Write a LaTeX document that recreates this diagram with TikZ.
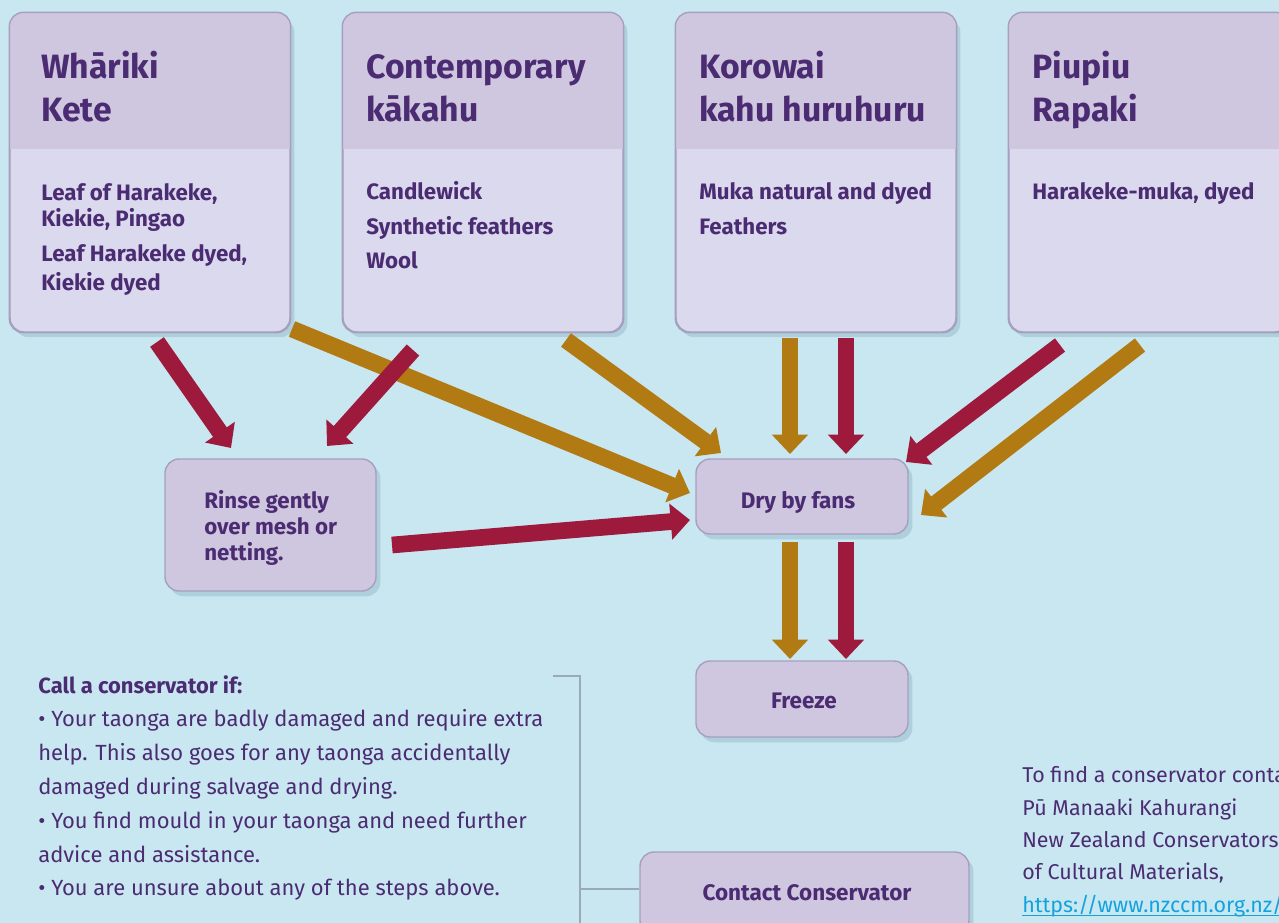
\documentclass[tikz,border=0pt]{standalone}
\usepackage{fontspec}
\setmainfont{Fira Sans}
\usetikzlibrary{arrows.meta,calc,shadows}
\definecolor{bg}{HTML}{C9E7F1}
\definecolor{headc}{HTML}{CFC6DF}
\definecolor{bodyc}{HTML}{DAD9EE}
\definecolor{boxline}{HTML}{A79FC0}
\definecolor{txt}{HTML}{4B2C72}
\definecolor{redc}{HTML}{9E1A3C}
\definecolor{goldc}{HTML}{B27A12}
\definecolor{linkc}{HTML}{12A3DD}
\definecolor{brk}{HTML}{9EA9B8}
\definecolor{shad}{HTML}{8FB2C4}
\tikzset{
  box/.style={draw=boxline, line width=0.8pt, rounded corners=8pt, fill=bodyc, inner sep=0pt,
    drop shadow={shadow xshift=2.5pt, shadow yshift=-3pt, fill=shad, opacity=0.45}},
  stepbox/.style={box, fill=headc},
  head/.style={anchor=base west, inner sep=0pt, text=txt, font=\fontsize{19.2}{22}\selectfont\bfseries},
  body/.style={anchor=base west, inner sep=0pt, text=txt, font=\fontsize{12.7}{14}\selectfont\bfseries},
  steptext/.style={anchor=base, inner sep=0pt, text=txt, font=\fontsize{12.8}{14}\selectfont\bfseries},
  note/.style={anchor=base west, inner sep=0pt, text=txt, font=\fontsize{12.5}{14}\selectfont},
  fnote/.style={anchor=base west, inner sep=0pt, text=txt, font=\fontsize{12.2}{14}\selectfont},
  fat/.style={line width=9.5pt, -{Triangle[width=20pt,length=11pt]}},
}
\newcommand{\headband}[1]{%
  \begin{scope}
    \clip[rounded corners=8pt] (#1.north west) rectangle (#1.south east);
    \fill[headc] (#1.north west) rectangle ($(#1.north east)+(0,137)$);
  \end{scope}
  \draw[boxline, line width=0.8pt, rounded corners=8pt] (#1.north west) rectangle (#1.south east);}
\begin{document}
\begin{tikzpicture}[x=0.02cm,y=-0.02cm]
\useasboundingbox (0,0) rectangle (1279,923);
\clip (0,0) rectangle (1279,923);
\fill[bg] (0,0) rectangle (1279,923);

% top boxes
\node[box, minimum width=5.6cm, minimum height=6.38cm] (b1) at (150,172.5) {};
\node[box, minimum width=5.6cm, minimum height=6.38cm] (b2) at (483,172.5) {};
\node[box, minimum width=5.6cm, minimum height=6.38cm] (b3) at (816,172.5) {};
\node[box, minimum width=5.6cm, minimum height=6.38cm] (b4) at (1149,172.5) {};
\headband{b1}\headband{b2}\headband{b3}\headband{b4}

% headings
\node[head] (h1a) at (41,78) {Whāriki};
\node[head] (h1b) at (41,121) {Kete};
\node[head] (h2a) at (366,78) {Contemporary};
\node[head] (h2b) at (366,121) {kākahu};
\node[head] (h3a) at (699,78) {Korowai};
\node[head] (h3b) at (699,121) {kahu huruhuru};
\node[head] (h4a) at (1032,78) {Piupiu};
\node[head] (h4b) at (1032,121) {Rapaki};

% body texts
\node[body] (t1a) at (41,200) {Leaf of Harakeke,};
\node[body] (t1b) at (41,226) {Kiekie, Pingao};
\node[body] (t1c) at (41,261) {Leaf Harakeke dyed,};
\node[body] (t1d) at (41,290) {Kiekie dyed};
\node[body] (t2a) at (366,199) {Candlewick};
\node[body] (t2b) at (366,234) {Synthetic feathers};
\node[body] (t2c) at (366,268) {Wool};
\node[body] (t3a) at (699,199) {Muka natural and dyed};
\node[body] (t3b) at (699,234) {Feathers};
\node[body] (t4a) at (1032,199) {Harakeke-muka, dyed};

% step boxes
\node[stepbox, minimum width=4.22cm, minimum height=2.64cm] (rinse) at (270.5,525) {};
\node[stepbox, minimum width=4.24cm, minimum height=1.5cm] (dry) at (802,496.5) {};
\node[stepbox, minimum width=4.24cm, minimum height=1.52cm] (freeze) at (802,699) {};
\node[stepbox, minimum width=6.58cm, minimum height=1.66cm] (contact) at (804.5,893.5) {};

\node[body] (r1) at (204,508) {Rinse gently};
\node[body] (r2) at (204,534) {over mesh or};
\node[body] (r3) at (204,560) {netting.};
\node[steptext] (dryt) at (798,508) {Dry by fans};
\node[steptext] (frt) at (804,708) {Freeze};
\node[steptext] (cot) at (807,900) {Contact Conservator};

% arrow end points
\coordinate (a1s) at (157,342); \coordinate (a1e) at (231,448);
\coordinate (a2s) at (413,350); \coordinate (a2e) at (327,446);
\coordinate (a3s) at (292,329); \coordinate (a3e) at (690,493);
\coordinate (a4s) at (566,340); \coordinate (a4e) at (721,453);
\coordinate (a5s) at (790,338); \coordinate (a5e) at (790,454);
\coordinate (a6s) at (846,338); \coordinate (a6e) at (846,454);
\coordinate (a7s) at (1060,345); \coordinate (a7e) at (906,462);
\coordinate (a8s) at (1140,345); \coordinate (a8e) at (921,515);
\coordinate (a9s) at (392,545); \coordinate (a9e) at (690,520);
\coordinate (a10s) at (790,542); \coordinate (a10e) at (790,659);
\coordinate (a11s) at (846,542); \coordinate (a11e) at (846,659);

\draw[fat, goldc] (a3s) -- (a3e);
\draw[fat, goldc] (a4s) -- (a4e);
\draw[fat, goldc] (a5s) -- (a5e);
\draw[fat, goldc] (a8s) -- (a8e);
\draw[fat, goldc] (a10s) -- (a10e);
\draw[fat, redc] (a1s) -- (a1e);
\draw[fat, redc] (a2s) -- (a2e);
\draw[fat, redc] (a6s) -- (a6e);
\draw[fat, redc] (a7s) -- (a7e);
\draw[fat, redc] (a9s) -- (a9e);
\draw[fat, redc] (a11s) -- (a11e);

% note text
\node[note, font=\fontsize{12.5}{14}\selectfont\bfseries] (n0) at (38,693) {Call a conservator if:};
\node[note] (n1) at (38,726) {• Your taonga are badly damaged and require extra};
\node[note] (n2) at (38,760) {help. This also goes for any taonga accidentally};
\node[note] (n3) at (38,794) {damaged during salvage and drying.};
\node[note] (n4) at (38,828) {• You find mould in your taonga and need further};
\node[note] (n5) at (38,862) {advice and assistance.};
\node[note] (n6) at (38,895) {• You are unsure about any of the steps above.};

% bracket
\coordinate (bk1) at (553,676);
\coordinate (bk2) at (580,676);
\coordinate (bk3) at (580,923);
\coordinate (bk4) at (580,889);
\draw[brk, line width=0.8pt] (bk1) -- (bk2) -- (bk3);
\draw[brk, line width=0.8pt] (bk4) -- (contact.west |- bk4);

% right text
\node[fnote] (f1) at (1022,782) {To find a conservator contact};
\node[fnote] (f2) at (1022,815) {Pū Manaaki Kahurangi};
\node[fnote] (f3) at (1022,847) {New Zealand Conservators};
\node[fnote] (f4) at (1022,879) {of Cultural Materials,};
\node[fnote, text=linkc] (f5) at (1022,912) {https://www.nzccm.org.nz/};
\draw[linkc, line width=0.9pt] ([yshift=-2pt]f5.base west) -- ([yshift=-2pt]f5.base east);
\end{tikzpicture}
\end{document}
